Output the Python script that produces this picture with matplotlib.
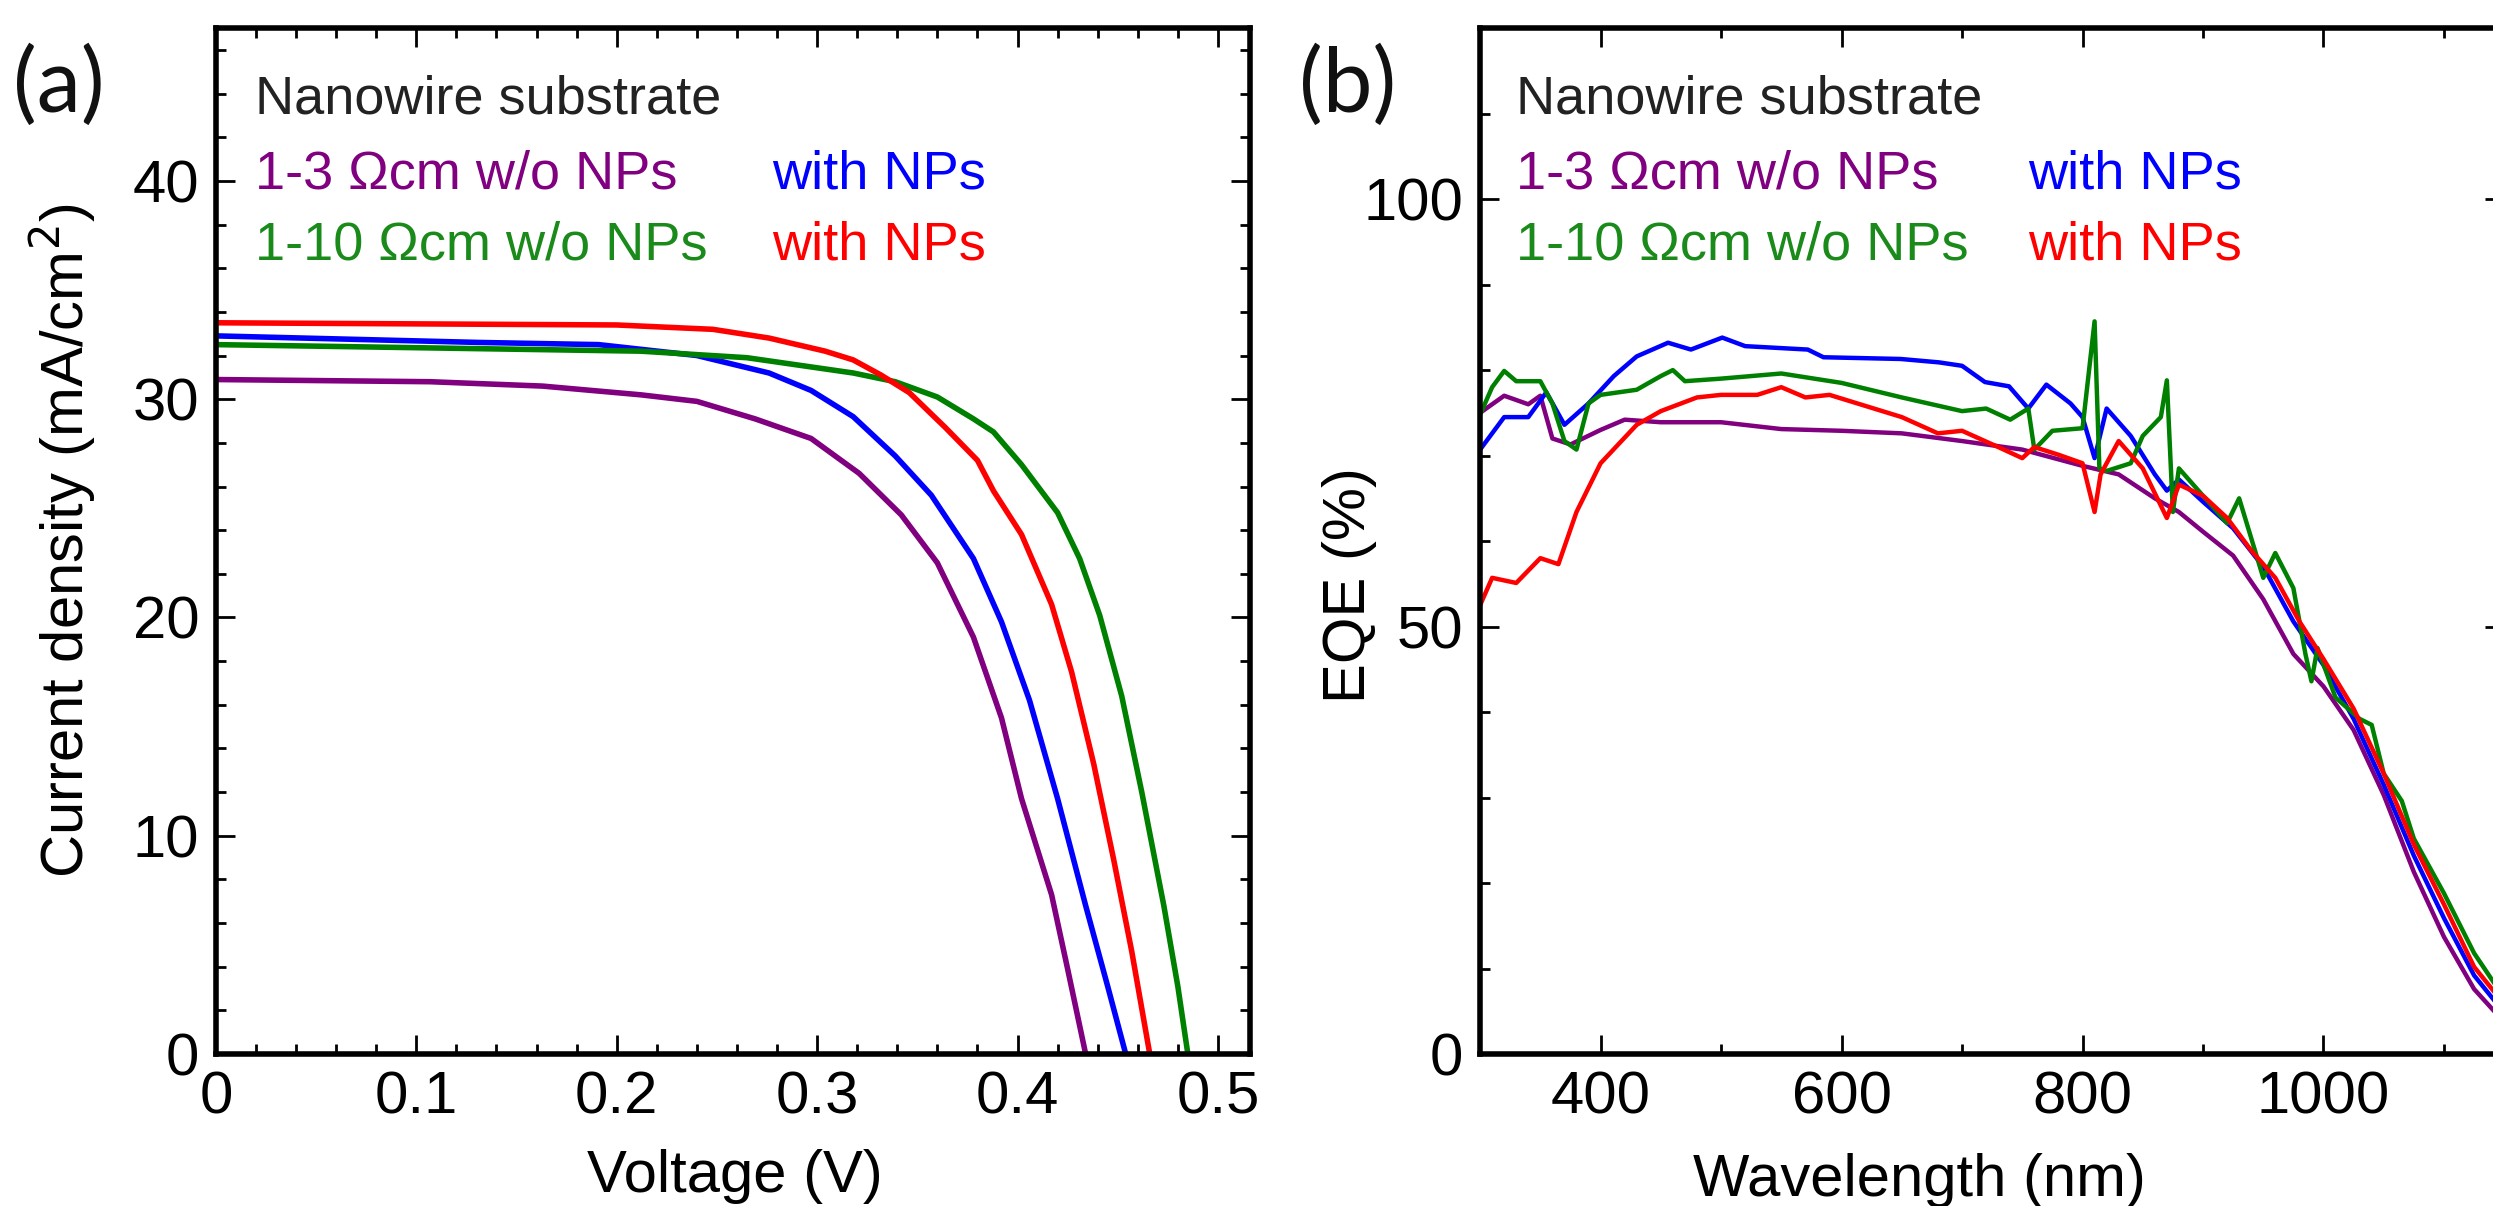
# grafico_celdas.py
# Curvas J-V (a) y EQE (b) de celdas solares con sustrato de nanohilos.

import matplotlib.pyplot as plt
from matplotlib.ticker import MultipleLocator

# ---- DATOS ----
series_names = ['1-3 Ωcm w/o NPs', '1-3 Ωcm with NPs', '1-10 Ωcm w/o NPs', '1-10 Ωcm with NPs']
colors = ['#800080', '#0000FF', '#008000', '#FF0000']

# (a) Curvas J-V
v_purple = [0.0, 0.107, 0.163, 0.212, 0.240, 0.269, 0.297, 0.321, 0.342, 0.360, 0.378, 0.392, 0.402, 0.417, 0.425, 0.434]
j_purple = [30.9, 30.8, 30.6, 30.2, 29.9, 29.1, 28.2, 26.6, 24.7, 22.5, 19.1, 15.4, 11.7, 7.3, 3.9, 0.0]

v_blue = [0.0, 0.131, 0.191, 0.240, 0.276, 0.297, 0.318, 0.339, 0.357, 0.378, 0.392, 0.406, 0.420, 0.434, 0.445, 0.454]
j_blue = [32.9, 32.6, 32.5, 32.0, 31.2, 30.4, 29.2, 27.4, 25.6, 22.7, 19.8, 16.2, 11.7, 6.8, 3.1, 0.0]

v_green = [0.0, 0.212, 0.265, 0.318, 0.339, 0.360, 0.378, 0.388, 0.402, 0.420, 0.431, 0.441, 0.452, 0.462, 0.473, 0.480, 0.485]
j_green = [32.5, 32.2, 31.9, 31.2, 30.8, 30.1, 29.1, 28.5, 27.0, 24.8, 22.7, 20.1, 16.4, 12.0, 6.8, 3.1, 0.0]

v_red = [0.0, 0.200, 0.248, 0.276, 0.304, 0.318, 0.332, 0.346, 0.364, 0.380, 0.388, 0.402, 0.417, 0.427, 0.438, 0.448, 0.457, 0.466]
j_red = [33.5, 33.4, 33.2, 32.8, 32.2, 31.8, 31.1, 30.3, 28.7, 27.2, 25.8, 23.8, 20.6, 17.5, 13.3, 8.9, 4.7, 0.0]

# (b) EQE
wl_purple = [300, 320, 340, 350, 360, 375, 400, 420, 450, 500, 550, 600, 650, 700, 750, 800, 830, 860,
             880, 900, 925, 950, 975, 1000, 1025, 1050, 1075, 1100, 1125, 1145]
eqe_purple = [75.0, 77.0, 76.0, 77.0, 72.0, 71.3, 73.0, 74.2, 73.9, 73.9, 73.1, 72.9, 72.6, 71.7, 70.7, 68.8, 67.8, 65.0,
              63.4, 61.1, 58.3, 53.2, 46.8, 43.0, 37.9, 30.3, 21.3, 13.7, 7.6, 4.5]

wl_blue = [300, 320, 340, 355, 370, 390, 411, 430, 456, 475, 501, 520, 572, 585, 649, 681, 700, 719, 739, 755,
           770, 790, 800, 810, 820, 840, 860, 870, 880, 900, 925, 950, 975, 1000, 1025, 1050, 1075, 1100, 1125, 1145]
eqe_blue = [70.7, 74.5, 74.5, 77.4, 73.6, 76.1, 79.3, 81.6, 83.2, 82.4, 83.8, 82.8, 82.4, 81.5, 81.3, 80.9, 80.5, 78.6, 78.1, 75.5,
            78.3, 76.1, 74.5, 69.7, 75.5, 72.3, 67.8, 65.9, 67.2, 64.6, 61.5, 57.0, 50.6, 45.5, 39.2, 31.5, 23.2, 15.9, 9.2, 5.7]

wl_green = [300, 310, 320, 330, 350, 360, 370, 380, 390, 400, 430, 450, 460, 470, 500, 550, 600, 650, 700, 720,
            740, 755, 760, 775, 800, 810, 814, 820, 840, 850, 865, 870, 875, 880, 900, 920, 930, 950, 960, 975,
            985, 990, 995, 1010, 1030, 1040, 1050, 1065, 1075, 1100, 1125, 1145]
eqe_green = [74.8, 78.0, 79.9, 78.7, 78.7, 76.1, 71.7, 70.7, 76.1, 77.1, 77.7, 79.3, 80.0, 78.7, 79.0, 79.6, 78.5, 76.8, 75.2, 75.5,
             74.2, 75.5, 70.7, 72.9, 73.2, 85.7, 68.5, 68.2, 69.1, 72.3, 74.5, 78.8, 63.4, 68.5, 65.3, 62.1, 65.0, 55.7, 58.6, 54.5,
             46.8, 43.6, 47.5, 41.7, 39.2, 38.5, 32.8, 29.6, 25.2, 18.8, 11.8, 7.6]

wl_red = [300, 310, 330, 350, 365, 380, 400, 430, 450, 480, 500, 530, 550, 570, 590, 620, 650, 680, 700, 730,
          750, 760, 780, 800, 810, 815, 830, 850, 870, 880, 900, 920, 940, 960, 980, 1000, 1025, 1050, 1075, 1100,
          1125, 1145]
eqe_red = [52.5, 55.7, 55.1, 58.0, 57.3, 63.4, 69.1, 73.6, 75.2, 76.8, 77.1, 77.1, 78.0, 76.8, 77.1, 75.8, 74.5, 72.6, 72.9, 71.0,
           69.7, 71.0, 70.1, 69.1, 63.4, 67.8, 71.7, 68.5, 62.7, 66.6, 65.3, 62.7, 58.9, 55.7, 50.6, 46.2, 40.4, 32.8, 24.5, 17.5,
           10.2, 6.7]

jv_data = [(v_purple, j_purple), (v_blue, j_blue), (v_green, j_green), (v_red, j_red)]
eqe_data = [(wl_purple, eqe_purple), (wl_blue, eqe_blue), (wl_green, eqe_green), (wl_red, eqe_red)]

# ---- FIGURA ----
plt.rcParams['font.family'] = ['Liberation Sans', 'DejaVu Sans']
fig = plt.figure(figsize=(24.93, 12.06), dpi=100)
ax_a = fig.add_axes([0.0866, 0.126, 0.4148, 0.8507])
ax_b = fig.add_axes([0.5937, 0.126, 0.4108, 0.8507])

for (x, y), c in zip(jv_data, colors):
    ax_a.plot(x, y, color=c, linewidth=4)
for (x, y), c in zip(eqe_data, colors):
    ax_b.plot(x, y, color=c, linewidth=3.2)

ax_a.set_xlim(0, 0.516)
ax_a.set_ylim(0, 47)
ax_a.xaxis.set_major_locator(MultipleLocator(0.1))
ax_a.xaxis.set_minor_locator(MultipleLocator(0.02))
ax_a.yaxis.set_major_locator(MultipleLocator(10))
ax_a.yaxis.set_minor_locator(MultipleLocator(2))
ax_a.set_xticks([0, 0.1, 0.2, 0.3, 0.4, 0.5])
ax_a.set_xticklabels(['0', '0.1', '0.2', '0.3', '0.4', '0.5'])
ax_a.set_yticks([0, 10, 20, 30, 40])

ax_b.set_xlim(300, 1150)
ax_b.set_ylim(0, 120)
ax_b.xaxis.set_major_locator(MultipleLocator(200))
ax_b.xaxis.set_minor_locator(MultipleLocator(100))
ax_b.yaxis.set_major_locator(MultipleLocator(50))
ax_b.yaxis.set_minor_locator(MultipleLocator(10))
ax_b.set_xticks([400, 600, 800, 1000])
ax_b.set_yticks([0, 50, 100])

for ax in (ax_a, ax_b):
    for s in ax.spines.values():
        s.set_linewidth(4)
    ax.tick_params(which='both', direction='in', top=True, right=True, width=2)
    ax.tick_params(which='major', length=14, labelsize=43, pad=12)
    ax.tick_params(which='minor', length=7)

# Etiquetas de ejes
ax_a.text(-0.148, 0.5, 'Current density (mA/cm$^2$)', transform=ax_a.transAxes,
          rotation=90, ha='center', va='center', fontsize=43)
ax_a.text(0.502, -0.119, 'Voltage (V)', transform=ax_a.transAxes,
          ha='center', va='center', fontsize=43)
ax_b.text(-0.128, 0.457, 'EQE (%)', transform=ax_b.transAxes,
          rotation=90, ha='center', va='center', fontsize=43)
ax_b.text(0.429, -0.123, 'Wavelength (nm)', transform=ax_b.transAxes,
          ha='center', va='center', fontsize=43)

# Leyendas como texto de color
for ax, x1, x2 in ((ax_a, 0.038, 0.538), (ax_b, 0.035, 0.535)):
    ax.text(x1, 0.917, 'Nanowire substrate', transform=ax.transAxes, color='#222222',
            fontsize=39, va='baseline')
    ax.text(x1, 0.844, series_names[0], transform=ax.transAxes, color=colors[0],
            fontsize=39, va='baseline')
    ax.text(x2, 0.844, 'with NPs', transform=ax.transAxes, color=colors[1],
            fontsize=39, va='baseline')
    ax.text(x1, 0.774, series_names[2], transform=ax.transAxes, color='#1a8a1a',
            fontsize=39, va='baseline')
    ax.text(x2, 0.774, 'with NPs', transform=ax.transAxes, color=colors[3],
            fontsize=39, va='baseline')

# Rótulos de panel
fig.text(59 / 2493, 1 - 87 / 1206, '(a)', ha='center', va='center', fontsize=64,
         family=['Lato', 'DejaVu Sans'], color='#111111')
fig.text(1348 / 2493, 1 - 87 / 1206, '(b)', ha='center', va='center', fontsize=64,
         family=['Lato', 'DejaVu Sans'], color='#111111')

fig.savefig('out.png', dpi=100)
print('Gráfico guardado en out.png')
